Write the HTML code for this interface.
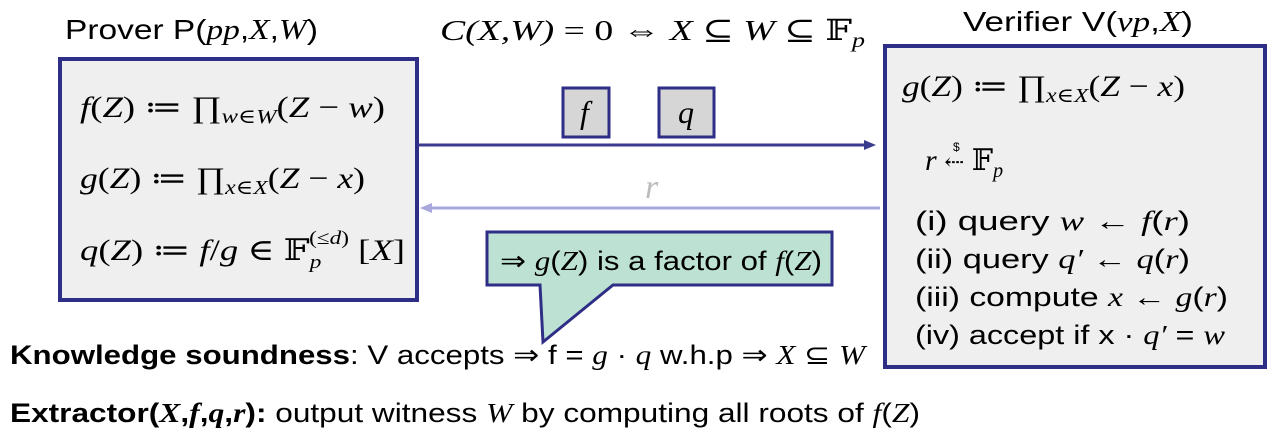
<!DOCTYPE html>
<html><head><meta charset="utf-8"><style>
html,body{margin:0;padding:0;background:#fff;}
svg{display:block;}
.s{font-family:"Liberation Sans",sans-serif;}
.m{font-family:"Liberation Serif","DejaVu Serif",serif;font-style:italic;}
</style></head><body>
<svg width="1276" height="438" viewBox="0 0 1276 438" xmlns="http://www.w3.org/2000/svg">
<rect width="1276" height="438" fill="#fff"/>
<text x="65" y="39" font-size="28" class="s" textLength="253" lengthAdjust="spacingAndGlyphs">Prover P(<tspan class="m">pp</tspan>,<tspan class="m">X</tspan>,<tspan class="m">W</tspan>)</text>
<text x="440" y="40" font-size="29" class="m" textLength="425" lengthAdjust="spacingAndGlyphs">C(X,W) <tspan font-style="normal">= 0  ⇔  </tspan>X <tspan font-style="normal">⊆</tspan> W <tspan font-style="normal">⊆ 𝔽</tspan><tspan font-size="20" dy="7">p</tspan></text>
<text x="963" y="31" font-size="28" class="s" textLength="230" lengthAdjust="spacingAndGlyphs">Verifier  V(<tspan class="m">vp</tspan>,<tspan class="m">X</tspan>)</text>
<rect x="60" y="59" width="357" height="241" fill="#efefef" stroke="#2e2e86" stroke-width="4"/>
<text x="80" y="117" font-size="30" class="m" textLength="305" lengthAdjust="spacingAndGlyphs">f<tspan font-style="normal">(</tspan>Z<tspan font-style="normal">) ≔ ∏</tspan><tspan font-size="20" dy="6">w∈W</tspan><tspan dy="-6" font-style="normal">(</tspan>Z <tspan font-style="normal">−</tspan> w<tspan font-style="normal">)</tspan></text>
<text x="80" y="188" font-size="30" class="m" textLength="285" lengthAdjust="spacingAndGlyphs">g<tspan font-style="normal">(</tspan>Z<tspan font-style="normal">) ≔ ∏</tspan><tspan font-size="20" dy="6">x∈X</tspan><tspan dy="-6" font-style="normal">(</tspan>Z <tspan font-style="normal">−</tspan> x<tspan font-style="normal">)</tspan></text>
<text x="80" y="260" font-size="30" class="m" textLength="325" lengthAdjust="spacingAndGlyphs">q<tspan font-style="normal">(</tspan>Z<tspan font-style="normal">) ≔ </tspan>f<tspan font-style="normal">/</tspan>g <tspan font-style="normal">∈ 𝔽</tspan><tspan font-size="19" dy="8">p</tspan><tspan font-size="19" dx="-10" dy="-24" font-style="normal">(≤</tspan><tspan font-size="19">d</tspan><tspan font-size="19" font-style="normal">)</tspan><tspan dy="16" font-style="normal">  [</tspan>X<tspan font-style="normal">]</tspan></text>
<line x1="418" y1="145" x2="868" y2="145" stroke="#3a3a8e" stroke-width="3"/>
<polygon points="876,145 864,140 864,150" fill="#3a3a8e"/>
<line x1="428" y1="208" x2="880" y2="208" stroke="#a8a8dc" stroke-width="3"/>
<polygon points="420,208 432,203 432,213" fill="#a8a8dc"/>
<rect x="563" y="88" width="46" height="49" fill="#d6d6d6" stroke="#2e2e86" stroke-width="3"/>
<text x="580" y="123" font-size="32" class="m">f</text>
<rect x="659" y="88" width="55" height="49" fill="#d6d6d6" stroke="#2e2e86" stroke-width="3"/>
<text x="678" y="123" font-size="32" class="m">q</text>
<text x="645" y="198" font-size="34" class="m" fill="#bbb">r</text>
<path d="M487,232 L832,232 L832,285 L613,285 L543,342 L540,285 L487,285 Z" fill="#bde2d3" stroke="#2e2e86" stroke-width="3"/>
<text x="500" y="270" font-size="27" class="s" textLength="322" lengthAdjust="spacingAndGlyphs">⇒ <tspan class="m">g</tspan>(<tspan class="m">Z</tspan>) is a factor of <tspan class="m">f</tspan>(<tspan class="m">Z</tspan>)</text>
<rect x="885" y="46" width="380" height="321" fill="#efefef" stroke="#2e2e86" stroke-width="4"/>
<text x="902" y="96" font-size="30" class="m" textLength="283" lengthAdjust="spacingAndGlyphs">g<tspan font-style="normal">(</tspan>Z<tspan font-style="normal">) ≔ ∏</tspan><tspan font-size="20" dy="6">x∈X</tspan><tspan dy="-6" font-style="normal">(</tspan>Z <tspan font-style="normal">−</tspan> x<tspan font-style="normal">)</tspan></text>
<text x="925" y="170" font-size="30" class="m">r <tspan font-style="normal" font-size="24">⇠</tspan><tspan font-style="normal"> 𝔽</tspan><tspan font-size="20" dy="7">p</tspan></text>
<text x="953" y="151" font-size="12" class="s">$</text>
<text x="915" y="230" font-size="27" class="s" textLength="275" lengthAdjust="spacingAndGlyphs">(i)   query  <tspan class="m">w</tspan> ← <tspan class="m">f</tspan>(<tspan class="m">r</tspan>)</text>
<text x="915" y="268" font-size="27" class="s" textLength="275" lengthAdjust="spacingAndGlyphs">(ii)  query  <tspan class="m">q′</tspan> ← <tspan class="m">q</tspan>(<tspan class="m">r</tspan>)</text>
<text x="915" y="306" font-size="27" class="s" textLength="313" lengthAdjust="spacingAndGlyphs">(iii) compute  <tspan class="m">x</tspan> ← <tspan class="m">g</tspan>(<tspan class="m">r</tspan>)</text>
<text x="915" y="344" font-size="27" class="s" textLength="310" lengthAdjust="spacingAndGlyphs">(iv) accept if  x · <tspan class="m">q′</tspan> = <tspan class="m">w</tspan></text>
<text x="10" y="364" font-size="27" class="s" textLength="855" lengthAdjust="spacingAndGlyphs"><tspan font-weight="bold">Knowledge soundness</tspan>: V accepts ⇒  f = <tspan class="m">g</tspan> · <tspan class="m">q</tspan>  w.h.p ⇒  <tspan class="m">X</tspan> ⊆ <tspan class="m">W</tspan></text>
<text x="10" y="422" font-size="27" class="s" textLength="910" lengthAdjust="spacingAndGlyphs"><tspan font-weight="bold">Extractor(</tspan><tspan class="m" font-weight="bold">X</tspan><tspan font-weight="bold">,</tspan><tspan class="m" font-weight="bold">f</tspan><tspan font-weight="bold">,</tspan><tspan class="m" font-weight="bold">q</tspan><tspan font-weight="bold">,</tspan><tspan class="m" font-weight="bold">r</tspan><tspan font-weight="bold">):</tspan>   output witness <tspan class="m">W</tspan> by computing all roots of <tspan class="m">f</tspan>(<tspan class="m">Z</tspan>)</text>
</svg>
</body></html>
